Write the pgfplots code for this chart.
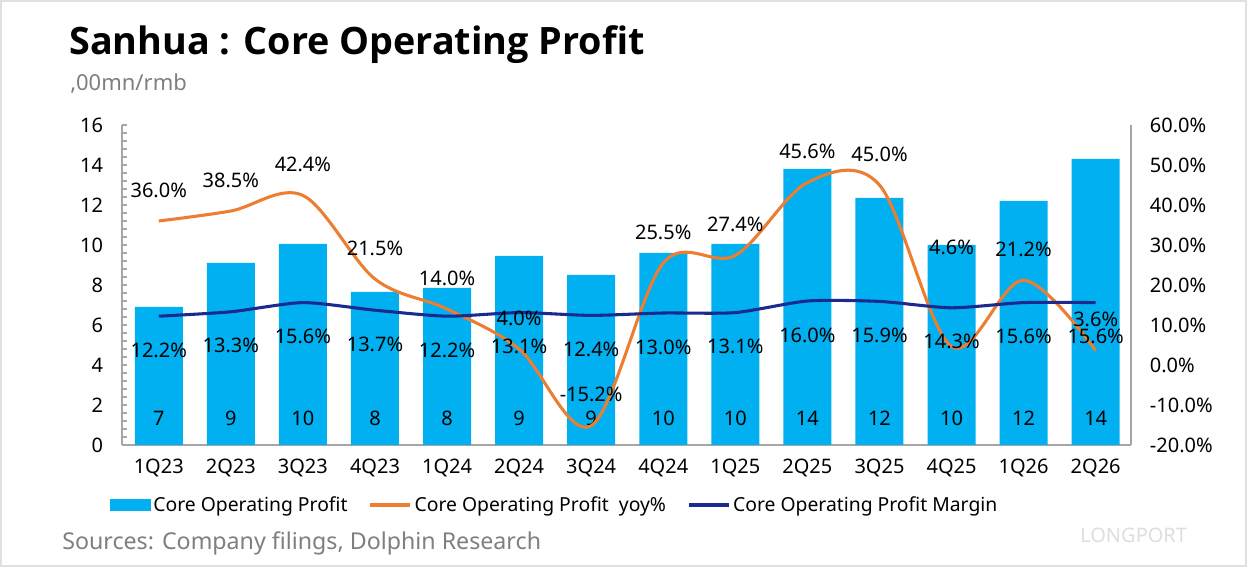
\documentclass[border=0pt]{standalone}
\usepackage{pgfplots}
\pgfplotsset{compat=1.18}
\usepackage{fontspec}
\setmainfont{Noto Sans}
\newfontfamily\titlefont{Open Sans}
\definecolor{barblue}{HTML}{00B0F0}
\definecolor{yoyorange}{HTML}{ED7D31}
\definecolor{navy}{HTML}{1B2A8E}
\definecolor{axgray}{HTML}{A6A6A6}
\definecolor{txtgray}{HTML}{7F7F7F}
\newcommand{\lblfont}{\fontsize{15}{18}\selectfont}
\begin{document}
\begin{tikzpicture}[x=0.75pt,y=0.75pt]
\useasboundingbox (0,0) rectangle (1247,567);
\fill[white] (0,0) rectangle (1247,567);
\draw[black!12, line width=1.2pt] (0.8,0.8) rectangle (1246.2,566.2);
\node[anchor=base west, inner sep=0pt, font=\titlefont\bfseries\fontsize{28.3}{32}\selectfont] at (69,512) {Sanhua : Core Operating Profit};
\node[anchor=base west, inner sep=0pt, text=txtgray, font=\fontsize{16.5}{19}\selectfont] at (70,476) {,00mn/rmb};
\node[anchor=base west, inner sep=0pt, text=txtgray, font=\fontsize{17.4}{21}\selectfont] at (62,17) {Sources: Company filings, Dolphin Research};
\node[anchor=base west, inner sep=0pt, text=black!13, font=\fontsize{15}{18}\selectfont] at (1080,24) {LONGPORT};

\begin{axis}[
  at={(91.5pt,91.5pt)}, anchor=south west,
  scale only axis, width=756.75pt, height=240pt,
  xmin=-0.51, xmax=13.49,
  ymin=0, ymax=16, ytick={0,2,...,16},
  minor y tick num=4,
  axis x line*=bottom, axis y line*=left,
  axis line style={axgray, line width=1.3pt, -},
  xtick={0,...,13},
  xticklabels={1Q23,2Q23,3Q23,4Q23,1Q24,2Q24,3Q24,4Q24,1Q25,2Q25,3Q25,4Q25,1Q26,2Q26},
  x tick style={draw=none},
  y tick style={axgray, line width=1pt},
  tick align=inside,
  major tick length=4pt, minor tick length=4pt,
  tick label style={font=\lblfont},
  yticklabel={\pgfmathprintnumber{\tick}},
  yticklabel style={inner sep=0pt, xshift=-14pt, /pgf/number format/assume math mode=true},
  xticklabel style={inner sep=0pt, yshift=-10pt},
  clip=false,
]
\addplot[ybar, bar width=36pt, bar shift=0pt, fill=barblue, draw=none] coordinates {
 (0,6.9) (1,9.1) (2,10.05) (3,7.65) (4,7.85) (5,9.45) (6,8.5) (7,9.6)
 (8,10.05) (9,13.8) (10,12.35) (11,10.0) (12,12.2) (13,14.3)};
\addplot[draw=none, mark=none, nodes near coords, point meta=explicit symbolic,
  every node near coord/.style={anchor=center, inner sep=0pt, font=\lblfont, text=black}] coordinates {
 (0,1.35)[7] (1,1.35)[9] (2,1.35)[10] (3,1.35)[8] (4,1.35)[8] (5,1.35)[9] (6,1.35)[9]
 (7,1.35)[10] (8,1.35)[10] (9,1.35)[14] (10,1.35)[12] (11,1.35)[10] (12,1.35)[12] (13,1.35)[14]};
\end{axis}

\begin{axis}[
  at={(91.5pt,91.5pt)}, anchor=south west,
  scale only axis, width=756.75pt, height=240pt,
  xmin=-0.51, xmax=13.49,
  ymin=-20, ymax=60, ytick={-20,-10,...,60},
  axis y line*=right, axis x line=none,
  axis line style={axgray, line width=1.3pt, -},
  y tick style={draw=none},
  yticklabel={\pgfmathprintnumber{\tick}\%},
  y tick label style={font=\lblfont, inner sep=0pt, xshift=14pt,
    /pgf/number format/.cd, fixed, fixed zerofill, precision=1, assume math mode=true},
  clip=false,
  legend style={at={(-0.012,-0.1875)}, anchor=west, draw=none, fill=none,
    inner sep=0pt, legend columns=3, font=\fontsize{14.5}{17}\selectfont,
    /tikz/every even column/.append style={column sep=14pt}},
  legend cell align=left,
]
\addplot[forget plot, yoyorange, line width=2.3pt, smooth, tension=0.55,
  nodes near coords, point meta=explicit symbolic,
  every node near coord/.style={anchor=center, yshift=23.25pt, font=\lblfont, text=black}] coordinates {
 (0,36.0)[36.0\%] (1,38.5)[38.5\%] (2,42.4)[42.4\%] (3,21.5)[21.5\%] (4,14.0)[14.0\%]
 (5,4.0)[4.0\%] (6,-15.2)[-15.2\%] (7,25.5)[25.5\%] (8,27.4)[27.4\%] (9,45.6)[45.6\%]
 (10,45.0)[45.0\%] (11,4.6)[] (12,21.2)[21.2\%] (13,3.6)[3.6\%]};
\addplot[forget plot, draw=none, mark=none, nodes near coords, point meta=explicit symbolic,
  every node near coord/.style={anchor=center, font=\lblfont, text=black}] coordinates {(11,29.5)[4.6\%]};
\addplot[forget plot, navy, line width=2.3pt, smooth, tension=0.4,
  nodes near coords, point meta=explicit symbolic,
  every node near coord/.style={anchor=center, yshift=-25.5pt, font=\lblfont, text=black}] coordinates {
 (0,12.2)[12.2\%] (1,13.3)[13.3\%] (2,15.6)[15.6\%] (3,13.7)[13.7\%] (4,12.2)[12.2\%]
 (5,13.1)[13.1\%] (6,12.4)[12.4\%] (7,13.0)[13.0\%] (8,13.1)[13.1\%] (9,16.0)[16.0\%]
 (10,15.9)[15.9\%] (11,14.3)[14.3\%] (12,15.6)[15.6\%] (13,15.6)[15.6\%]};
\addlegendimage{legend image code/.code={\fill[barblue] (0pt,-4.1pt) rectangle (30pt,4.1pt);}}
\addlegendentry{Core Operating Profit}
\addlegendimage{legend image code/.code={\draw[yoyorange, line width=2.3pt] (0pt,0pt) -- (30pt,0pt);}}
\addlegendentry{Core Operating Profit\ \ yoy\%}
\addlegendimage{legend image code/.code={\draw[navy, line width=2.3pt] (0pt,0pt) -- (30pt,0pt);}}
\addlegendentry{Core Operating Profit Margin}
\end{axis}
\end{tikzpicture}
\end{document}
